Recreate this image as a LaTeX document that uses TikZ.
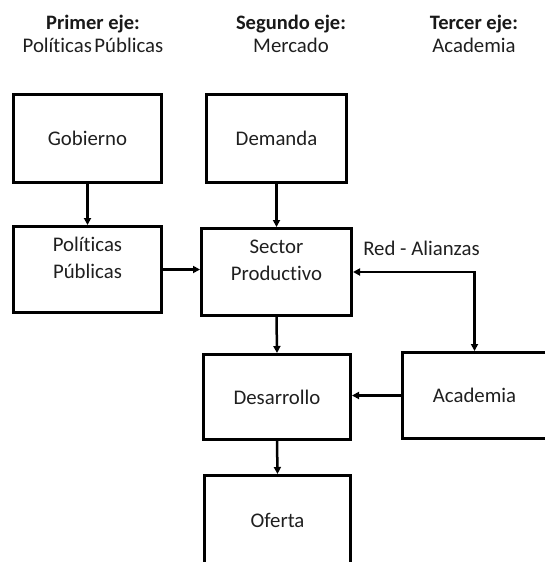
\documentclass[tikz,border=0pt]{standalone}
\usepackage{fontspec}
\setmainfont[Ligatures=NoCommon]{Carlito}
\usetikzlibrary{arrows.meta}
\begin{document}
\begin{tikzpicture}[x=1pt,y=-1pt,
  box/.style={draw=black,line width=3pt,inner sep=0pt},
  txt/.style={anchor=base,inner sep=0pt,font=\fontsize{20.8}{24}\selectfont,text=black!88},
  hdr/.style={anchor=base,inner sep=0pt,font=\fontsize{20.5}{24}\selectfont\bfseries,text=black!90},
  arr/.style={line width=2.5pt,-{Triangle[length=7pt,width=7pt]}},
  darr/.style={line width=2.5pt,{Triangle[length=7pt,width=7pt]}-{Triangle[length=7pt,width=7pt]}}]
\useasboundingbox (0,0) rectangle (545,562);
\clip (0,0) rectangle (545,562);
% headers
\node[hdr] (h1) at (93,29) {Primer eje:};
\node[txt] (h1b) at (93,52) {Políticas\hspace{0.12em}Públicas};
\node[hdr] (h2) at (291,29) {Segundo eje:};
\node[txt] (h2b) at (291,52) {Mercado};
\node[hdr] (h3) at (474,29) {Tercer eje:};
\node[txt] (h3b) at (474,52) {Academia};
% boxes
\node[box,minimum width=148pt,minimum height=88pt] (gob) at (87.5,138.5) {};
\node[box,minimum width=140pt,minimum height=88pt] (dem) at (276.5,138.5) {};
\node[box,minimum width=148pt,minimum height=86pt] (pol) at (87.5,269.5) {};
\node[box,minimum width=150pt,minimum height=87pt] (sec) at (276.5,272) {};
\node[box,minimum width=147pt,minimum height=85pt] (des) at (277,397) {};
\node[box,minimum width=144pt,minimum height=86pt] (aca) at (474.5,395.5) {};
\node[box,minimum width=146pt,minimum height=92pt] (ofe) at (277.5,521.5) {};
% texts
\node[txt] (gobt) at (87.5,145.5) {Gobierno};
\node[txt] (demt) at (276.5,145.5) {Demanda};
\node[txt] (polt1) at (87.5,251.5) {Políticas};
\node[txt] (polt2) at (87.5,278) {Públicas};
\node[txt] (sect1) at (276.5,253) {Sector};
\node[txt] (sect2) at (276.5,280) {Productivo};
\node[txt] (dest) at (277,404.5) {Desarrollo};
\node[txt] (acat) at (474.5,402.5) {Academia};
\node[txt] (ofet) at (277.5,527) {Oferta};
\node[txt] (red) at (421.5,255) {Red - Alianzas};
% connectors
\draw[arr] (gob.south) -- (pol.north);
\draw[arr] (dem.south) -- (sec.north);
\draw[arr] (pol.east) -- (pol.east -| sec.west);
\draw[arr] (sec.south) -- (des.north);
\draw[arr] (aca.west) -- (aca.west -| des.east);
\draw[arr] (des.south) -- (ofe.north);
\draw[darr] (sec.east) -| (aca.north);
\end{tikzpicture}
\end{document}
